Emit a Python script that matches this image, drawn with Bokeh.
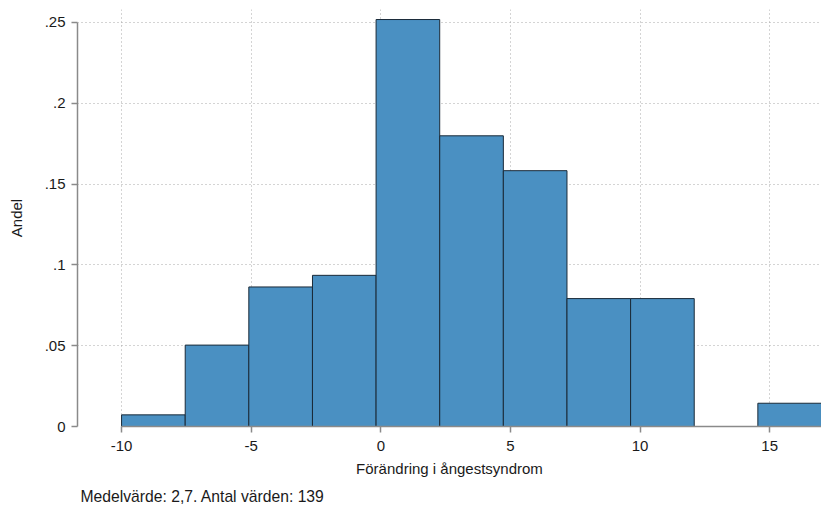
from bokeh.plotting import figure
from bokeh.models import Range1d, FixedTicker, Title
from bokeh.embed import file_html
from bokeh.resources import INLINE

# Histogram data (proportion of 139 observations per bin)
bin_left = [-10.0, -7.545, -5.091, -2.636, -0.182, 2.273, 4.727, 7.182, 9.636, 12.091, 14.545]
bin_width = 2.4545
counts = [1, 7, 12, 13, 35, 25, 22, 11, 11, 0, 2]
n_total = 139
shares = [c / n_total for c in counts]

x_ticks = [-10, -5, 0, 5, 10, 15]
x_tick_labels = {-10: "-10", -5: "-5", 0: "0", 5: "5", 10: "10", 15: "15"}
y_ticks = [0, 0.05, 0.1, 0.15, 0.2, 0.25]
y_tick_labels = {0: "0", 0.05: ".05", 0.1: ".1", 0.15: ".15", 0.2: ".2", 0.25: ".25"}

FONT = "Liberation Sans"
FS = "15px"
TXT = "#1a1a1a"
AX = "#8a8a8a"

p = figure(width=821, height=511, output_backend="svg", toolbar_location=None,
           x_range=Range1d(-11.70, 17.0), y_range=Range1d(0, 0.258))
p.min_border_left = 77
p.min_border_right = 0
p.min_border_top = 9
p.min_border_bottom = 85
p.outline_line_color = None

rights = [l + bin_width for l in bin_left]
p.quad(left=bin_left, right=rights, bottom=0, top=shares,
       fill_color="#4a90c2", line_color="#1a2a38", line_width=1)

for ax, ticks in ((p.xaxis[0], x_ticks), (p.yaxis[0], y_ticks)):
    ax.ticker = FixedTicker(ticks=ticks)
    ax.axis_line_color = AX
    ax.axis_line_width = 1.5
    ax.major_tick_line_color = AX
    ax.major_tick_line_width = 1.5
    ax.major_tick_out = 6
    ax.major_tick_in = 0
    ax.minor_tick_line_color = None
    ax.major_label_text_font = FONT
    ax.major_label_text_font_size = FS
    ax.major_label_text_color = TXT
    ax.axis_label_text_font = FONT
    ax.axis_label_text_font_size = FS
    ax.axis_label_text_color = TXT
    ax.axis_label_text_font_style = "normal"

p.xaxis.bounds = (-10, 17)
p.yaxis.bounds = (0, 0.25)
p.xaxis.major_label_overrides = x_tick_labels
p.yaxis.major_label_overrides = y_tick_labels
p.xaxis.axis_label = "Förändring i ångestsyndrom"
p.yaxis.axis_label = "Andel"
p.xaxis.major_label_standoff = 8
p.xaxis.axis_label_standoff = 6
p.yaxis.major_label_standoff = 6
p.yaxis.axis_label_standoff = 17

for g in (p.xgrid[0], p.ygrid[0]):
    g.grid_line_color = "#a8a8a8"
    g.grid_line_dash = "1 3"
    g.grid_line_width = 1
p.xgrid.ticker = FixedTicker(ticks=x_ticks)
p.ygrid.ticker = FixedTicker(ticks=y_ticks)

note = Title(text="Medelvärde: 2,7. Antal värden: 139", align="left",
             text_font=FONT, text_font_size="15.7px", text_font_style="normal",
             text_color=TXT, offset=3, standoff=12)
p.add_layout(note, "below")

open("out.html", "w").write(file_html(p, INLINE))
